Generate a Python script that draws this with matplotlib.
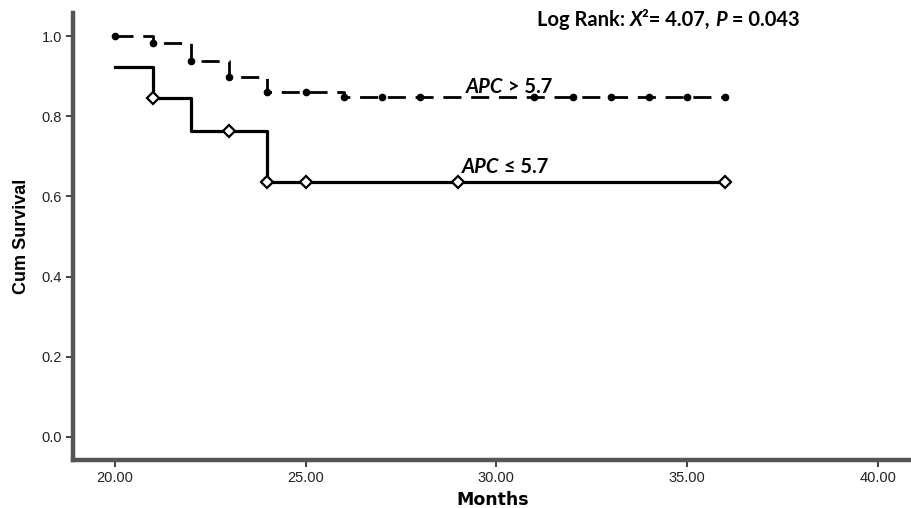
import numpy as np
import matplotlib
matplotlib.use("Agg")
import matplotlib.pyplot as plt

# Kaplan-Meier: APC > 5.7 (tratteggiata, punti pieni)
hi_times = [20, 21, 22, 23, 24, 26, 36]
hi_surv = [1.0, 0.982, 0.938, 0.897, 0.861, 0.847, 0.847]
hi_cens = [20, 21, 22, 23, 24, 25, 26, 27, 28, 31, 32, 33, 34, 35, 36]

# APC <= 5.7 (continua, rombi vuoti)
lo_times = [20, 21, 22, 24, 36]
lo_surv = [0.923, 0.846, 0.762, 0.635, 0.635]
lo_cens = [21, 23, 24, 25, 29, 36]

x_ticks = [20, 25, 30, 35, 40]
y_ticks = [0.0, 0.2, 0.4, 0.6, 0.8, 1.0]


def surv_at(times, surv, t):
    idx = np.searchsorted(times, t, side='right') - 1
    return np.array(surv)[idx]


ann_font = ['Lato', 'DejaVu Sans']


def testo_misto(ax, x, y, pezzi, size):
    # pezzi = lista di (stringa, corsivo?) scritti uno dopo l'altro
    prev = None
    for s, it in pezzi:
        style = 'italic' if it else 'normal'
        if prev is None:
            prev = ax.text(x, y, s, ha='left', va='baseline', family=ann_font,
                           fontweight='bold', style=style, fontsize=size)
        else:
            prev = ax.annotate(s, xy=(1, 0), xycoords=prev, ha='left',
                               va='bottom', family=ann_font, fontweight='bold',
                               style=style, fontsize=size)


fig = plt.figure(figsize=(9.12, 5.08), dpi=100)
ax = fig.add_axes([0.080, 0.0945, 0.92, 0.880])

ax.plot(hi_times, hi_surv, drawstyle='steps-post', color='black',
        linewidth=2.0, dashes=(6.5, 3.5))
ax.plot(hi_cens, surv_at(hi_times, hi_surv, hi_cens), 'o', color='black',
        markersize=4.5)

ax.plot(lo_times, lo_surv, drawstyle='steps-post', color='black',
        linewidth=2.3)
ax.plot(lo_cens, surv_at(lo_times, lo_surv, lo_cens), 'D', color='black',
        markerfacecolor='white', markeredgewidth=1.6, markersize=6.5)

ax.set_xlim(18.9, 40.9)
ax.set_ylim(-0.0575, 1.0575)

ax.set_xticks(x_ticks)
ax.set_xticklabels(['%.2f' % v for v in x_ticks])
ax.set_yticks(y_ticks)
ax.set_yticklabels(['%.1f' % v for v in y_ticks])

tick_font = ['Liberation Sans', 'DejaVu Sans']
for lab in ax.get_xticklabels() + ax.get_yticklabels():
    lab.set_family(tick_font)
    lab.set_fontsize(10.5)
    lab.set_color('#222222')
ax.tick_params(direction='out', length=5, width=1.3, color='#333333', pad=3)

for side in ['top', 'right']:
    ax.spines[side].set_visible(False)
for side in ['left', 'bottom']:
    ax.spines[side].set_color('#555555')
    ax.spines[side].set_linewidth(3.2)

ax.set_ylabel('Cum Survival', family=tick_font, fontsize=13, fontweight='bold',
              labelpad=8)
ax.set_xlabel('Months', family='DejaVu Sans', fontsize=12.5, fontweight='bold',
              labelpad=4)

testo_misto(ax, 31.06, 1.025, [('Log Rank: ', False), ('X', True),
                              ('²= 4.07, ', False), ('P', True),
                              (' = 0.043', False)], 14.5)
testo_misto(ax, 29.2, 0.858, [('APC', True), (' > 5.7', False)], 14.5)
testo_misto(ax, 29.1, 0.658, [('APC', True), (' ≤ 5.7', False)], 14.5)

fig.savefig('out.png', dpi=100, facecolor='white')
